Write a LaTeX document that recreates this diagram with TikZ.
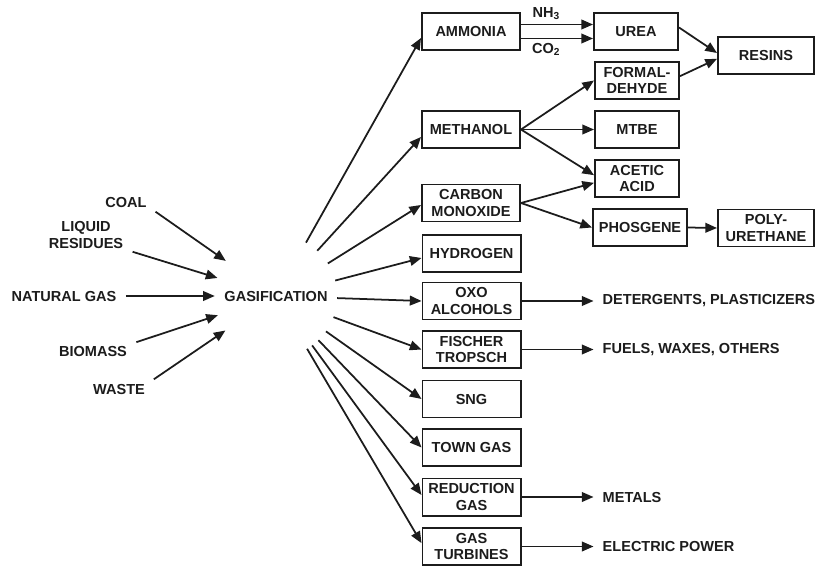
\documentclass[tikz,border=0pt]{standalone}
\usepackage{fontspec}
\setmainfont{Liberation Sans}
\usetikzlibrary{arrows.meta,positioning}
\definecolor{LineClr}{HTML}{1c1c1c}

\tikzset{
  boxA/.style={draw=LineClr,line width=1.7pt,minimum width=2.94cm,minimum height=1.11cm,inner sep=1pt,align=center},
  boxB/.style={boxA,minimum width=2.52cm},
  boxC/.style={boxA,minimum width=2.88cm},
  feed/.style={inner xsep=5pt,inner ysep=2pt,align=center},
  outtxt/.style={inner xsep=0.27cm},
  arr/.style={-{Triangle[length=0.35cm,width=0.29cm]},line width=1.5pt,draw=LineClr},
}

\begin{document}
\begin{tikzpicture}[x=0.03cm,y=-0.03cm,
  every node/.style={font=\bfseries\fontsize{12.4pt}{13.7pt}\selectfont,text=LineClr}]
\useasboundingbox (0,0) rectangle (815,567);

\node[circle,minimum size=3.66cm,inner sep=0pt] (gasif) at (276,296) {GASIFICATION};

\node[feed] (coal) at (126,202) {COAL};
\node[feed] (liq) at (86,235) {LIQUID\\RESIDUES};
\node[feed] (nat) at (64,296) {NATURAL GAS};
\node[feed] (bio) at (93,351) {BIOMASS};
\node[feed] (waste) at (119,389) {WASTE};

\node[boxA] (ammonia) at (471,31.5) {AMMONIA};
\node[boxB] (urea) at (636,31.5) {UREA};
\node[boxC] (resins) at (766,55.5) {RESINS};
\node[boxB] (form) at (637,80.5) {FORMAL-\\DEHYDE};
\node[boxA] (methanol) at (471,129.5) {METHANOL};
\node[boxB] (mtbe) at (637,129.5) {MTBE};
\node[boxB] (acetic) at (637,178.5) {ACETIC\\ACID};
\node[boxA] (co) at (471,203) {CARBON\\MONOXIDE};
\node[boxA,minimum width=2.82cm] (phosgene) at (640,227.5) {PHOSGENE};
\node[boxC] (poly) at (766,228) {POLY-\\URETHANE};
\node[boxA] (hydrogen) at (471.5,253.5) {HYDROGEN};
\node[boxA] (oxo) at (471.5,301) {OXO\\ALCOHOLS};
\node[boxA] (ft) at (471.5,349.5) {FISCHER\\TROPSCH};
\node[boxA] (sng) at (471.5,399) {SNG};
\node[boxA] (town) at (471.5,447.5) {TOWN GAS};
\node[boxA] (red) at (471.5,497) {REDUCTION\\GAS};
\node[boxA] (gt) at (471.5,546.5) {GAS\\TURBINES};

\node[outtxt,right=2.16cm of oxo] (det) {DETERGENTS, PLASTICIZERS};
\node[outtxt,right=2.16cm of ft] (fuels) {FUELS, WAXES, OTHERS};
\node[outtxt,right=2.16cm of red] (metals) {METALS};
\node[outtxt,right=2.16cm of gt] (power) {ELECTRIC POWER};

\foreach \s/\a in {coal/south east,liq/south east,nat/east,bio/north east,waste/north east}
  \draw[arr,shorten <=3pt] (\s.\a) -- (gasif);

\foreach \t/\dy in {ammonia/-0.195,methanol/-0.225,co/-0.06,hydrogen/-0.135,oxo/0,ft/0,sng/0,town/0,red/0.06,gt/0.1}
  \draw[arr] (gasif) -- ([yshift=\dy cm]\t.west);

\draw[arr] ([yshift=0.21cm]ammonia.east) -- node[pos=0.35,above]{NH\textsubscript{3}} ([yshift=0.21cm]urea.west);
\draw[arr] ([yshift=-0.21cm]ammonia.east) -- node[pos=0.35,below]{CO\textsubscript{2}} ([yshift=-0.21cm]urea.west);
\draw[arr] ([yshift=0.12cm]urea.east) -- ([yshift=0.075cm]resins.west);
\draw[arr] ([yshift=0.13cm]form.east) -- ([yshift=-0.1cm]resins.west);

\draw[arr] (methanol.east) -- (form.west);
\draw[arr] (methanol.east) -- (mtbe.west);
\draw[arr] (methanol.east) -- ([yshift=0.1cm]acetic.west);
\draw[arr] (co.east) -- ([yshift=-0.13cm]acetic.west);
\draw[arr] (co.east) -- (phosgene.west);
\draw[arr] (phosgene.east) -- (poly.west);

\draw[arr] (oxo.east) -- (det.west);
\draw[arr] (ft.east) -- (fuels.west);
\draw[arr] (red.east) -- (metals.west);
\draw[arr] (gt.east) -- (power.west);

\end{tikzpicture}
\end{document}
